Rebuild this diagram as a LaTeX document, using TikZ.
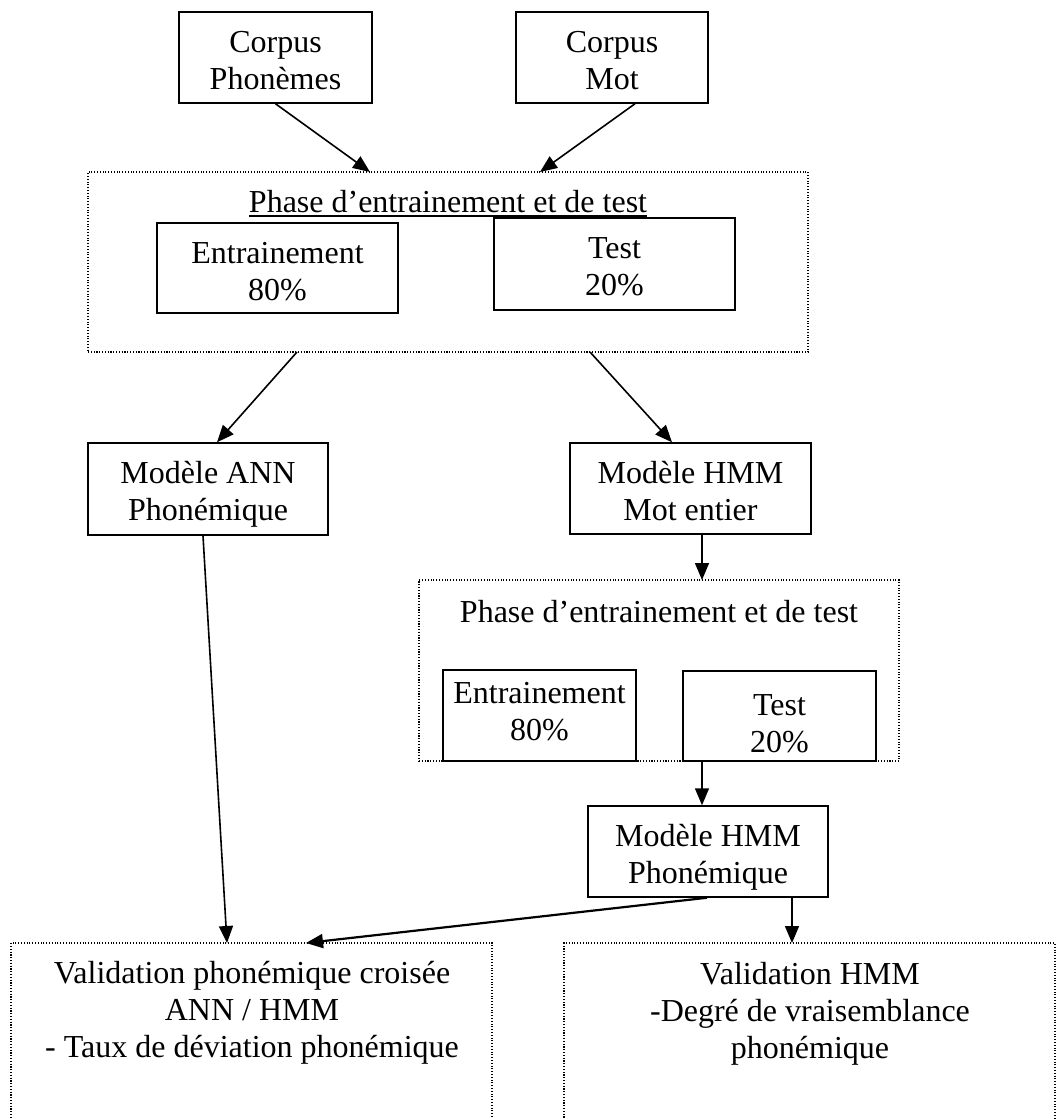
\documentclass[tikz,border=0pt]{standalone}
\usepackage{fontspec}
\setmainfont{Liberation Serif}
\usetikzlibrary{arrows.meta}

% invisible strut that lowers (height) or raises (depth) a text block
\newcommand\topstrut[1]{\rule{0pt}{#1}}
\newcommand\botstrut[1]{\rule[-#1]{0pt}{#1}}

\tikzset{
  box/.style={draw, line width=1.5pt, fill=white, inner sep=0pt, align=center,
    font=\fontsize{32}{37}\selectfont},
  group/.style={draw=black, line width=1.1pt, dash pattern=on 1.1pt off 1.7pt,
    inner sep=0pt},
  label text/.style={inner sep=0pt, align=center, font=\fontsize{32}{37}\selectfont},
  link/.style={line width=1.6pt, -{Triangle[length=17pt,width=14pt]}},
}

\begin{document}
\begin{tikzpicture}[x=1pt, y=-1pt]
\clip (0,0) rectangle (1056,1119);
\fill[white] (0,0) rectangle (1056,1119);

% dotted groups
\node[group, minimum width=720pt, minimum height=180pt] (g1) at (448,262) {};
\node[group, minimum width=480pt, minimum height=181pt] (g2) at (659,670.5) {};
\node[group, minimum width=481pt, minimum height=197pt] (v1) at (251.5,1041.5) {};
\node[group, minimum width=491pt, minimum height=197pt] (v2) at (809.5,1041.5) {};

% group titles
\node[label text, anchor=base] (t1) at (448,212) {Phase d’entrainement et de test};
\draw[line width=1.5pt] ([yshift=-4pt]t1.base west) -- ([yshift=-4pt]t1.base east);
\node[label text, anchor=base] (t2) at (659,622) {Phase d’entrainement et de test};

% corpora
\node[box, minimum width=193pt, minimum height=91pt] (cp) at (275.5,57.5) {\topstrut{28pt}Corpus\\Phonèmes};
\node[box, minimum width=192pt, minimum height=91pt] (cm) at (612,57.5) {\topstrut{28pt}Corpus\\Mot};

% first split
\node[box, minimum width=241pt, minimum height=90pt] (e1) at (277.5,268) {\topstrut{29pt}Entrainement\\80\%};
\node[box, minimum width=241pt, minimum height=92pt] (s1) at (614.5,264) {\topstrut{27pt}Test\\20\%};

% models
\node[box, minimum width=240pt, minimum height=92pt] (ann) at (208,489) {\topstrut{32pt}Modèle ANN\\Phonémique};
\node[box, minimum width=241pt, minimum height=91pt] (hw) at (690.5,488.5) {\topstrut{28pt}Modèle HMM\\Mot entier};

% second split
\node[box, minimum width=193pt, minimum height=91pt] (e2) at (539.5,715.5) {Entrainement\\80\%\botstrut{8pt}};
\node[box, minimum width=193pt, minimum height=90pt] (s2) at (779.5,716) {\topstrut{37pt}Test\\20\%};

\node[box, minimum width=240pt, minimum height=91pt] (hp) at (708,851.5) {\topstrut{34pt}Modèle HMM\\Phonémique};

% validation texts
\node[label text] (v1t) at (252,1013) {Validation phonémique croisée\\ANN / HMM\\- Taux de déviation phonémique};
\node[label text] (v2t) at (810,1014) {Validation HMM\\-Degré de vraisemblance\\phonémique};

% connector end points on the dotted groups
\coordinate (g1a) at (370,172);
\coordinate (g1b) at (540,172);
\coordinate (g1c) at (297,352);
\coordinate (g1d) at (590,352);
\coordinate (g2a) at (702,580);
\coordinate (v1a) at (227,943);
\coordinate (v1b) at (306,943);
\coordinate (v2a) at (792,943);

% connectors
\draw[link] (cp.south) -- (g1a);
\draw[link] ([xshift=23pt]cm.south) -- (g1b);
\draw[link] (g1c) -- ([xshift=9pt]ann.north);
\draw[link] (g1d) -- ([xshift=-18.5pt]hw.north);
\draw[link] ([xshift=11.5pt]hw.south) -- (g2a);
\draw[link] ([xshift=-77.5pt]s2.south) -- ([xshift=-6pt]hp.north);
\draw[link] ([xshift=-5pt]ann.south) -- (v1a);
\draw[link, line width=2.2pt] ([xshift=-1pt]hp.south) -- (v1b);
\draw[link] ([xshift=84pt]hp.south) -- (v2a);
\end{tikzpicture}
\end{document}
